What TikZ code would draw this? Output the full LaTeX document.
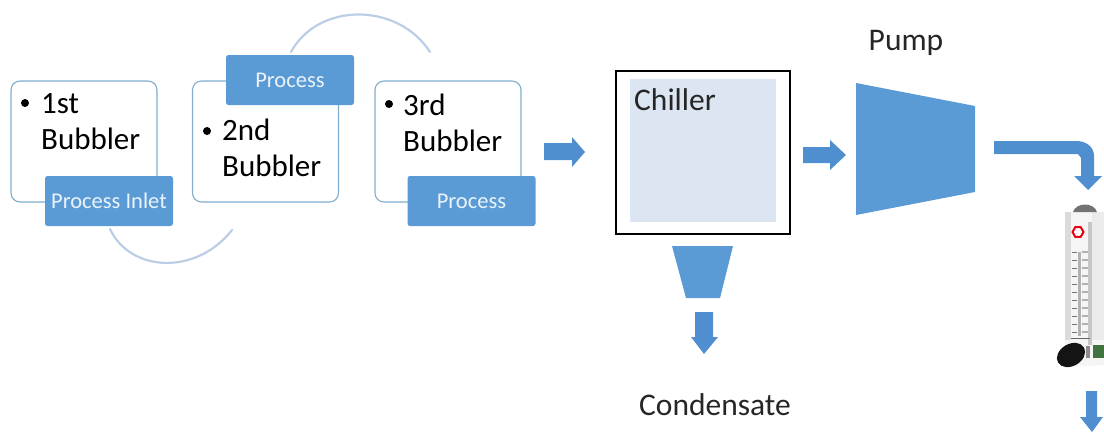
\documentclass[tikz,border=0pt]{standalone}
\usepackage{fontspec}
\setmainfont{Carlito}
\usetikzlibrary{calc,shapes.geometric}
\definecolor{bluefill}{HTML}{5B9BD5}
\definecolor{arrowblue}{HTML}{4F8FD0}
\definecolor{cardedge}{HTML}{7FAFCF}
\definecolor{arcblue}{HTML}{BCCDE6}
\definecolor{chillfill}{HTML}{DCE6F2}
\tikzset{
  x=1pt,y=-1pt,
  card/.style={draw=cardedge,line width=1.1pt,rounded corners=9pt,fill=white,minimum width=146pt,minimum height=121pt,inner sep=0pt},
  tag/.style={fill=bluefill,rounded corners=2.5pt,minimum width=128pt,minimum height=50pt,inner sep=0pt,text=white!88!bluefill,font=\fontsize{22.5}{24}\selectfont},
  cardtext/.style={font=\fontsize{31}{36}\selectfont,text=black,align=left,anchor=north west,inner sep=0pt},
  bullet/.style={circle,fill=black,minimum size=8pt,inner sep=0pt},
  label/.style={font=\fontsize{31.5}{34}\selectfont,text=black!85,inner sep=0pt},
  arcline/.style={draw=arcblue,line width=2.2pt,line cap=round},
  blockarrow/.style={fill=arrowblue},
}
\begin{document}
\begin{tikzpicture}
\useasboundingbox (0,0) rectangle (1104,432);
% arcs
\coordinate (a1s) at (110,229);
\coordinate (a1e) at (232,230);
\coordinate (a2s) at (291,52);
\coordinate (a2e) at (430,52);
\draw[arcline] (a1s) .. controls (130,272) and (196,276) .. (a1e);
\draw[arcline] (a2s) .. controls (318,2) and (398,2) .. (a2e);
% cards
\node[card] (c1) at (84,141.5) {};
\node[card] (c2) at (265.5,141.5) {};
\node[card] (c3) at (448,141.5) {};
\node[tag] (t1) at (109,201) {Process Inlet};
\node[tag] (t2) at (290,80) {Process};
\node[tag] (t3) at (471.5,201) {Process};
\node[bullet] (b1) at (25,103) {};
\node[bullet] (b2) at (207,131) {};
\node[bullet] (b3) at (389,104) {};
\node[cardtext] (x1) at (41,93) {1st\\Bubbler};
\node[cardtext] (x2) at (222,119) {2nd\\Bubbler};
\node[cardtext] (x3) at (403,94) {3rd\\Bubbler};
% arrow to chiller
\fill[blockarrow] (544,143) -- (572,143) -- (572,137) -- (585,152) -- (572,167) -- (572,160) -- (544,160) -- cycle;
% chiller
\draw[black,line width=1.5pt] (616,71) rectangle (790,234);
\node[fill=chillfill,minimum width=146pt,minimum height=143pt,inner sep=0pt] (chill) at (703,150.5) {};
\node[label,anchor=west] (chillt) at (634,100) {Chiller};
% arrow to pump
\fill[blockarrow] (803,147) -- (830,147) -- (830,140) -- (846,155) -- (830,170) -- (830,163) -- (803,163) -- cycle;
% pump
\fill[bluefill] (856,83) -- (975,106) -- (975,192) -- (856,215) -- cycle;
\node[label] (pump) at (906,43) {Pump};
% condensate funnel and arrow
\fill[bluefill] (672,246) -- (733,246) -- (720,298) -- (686,298) -- cycle;
\fill[blockarrow] (695,312) -- (713,312) -- (713,337) -- (718,337) -- (704,354) -- (691,337) -- (695,337) -- cycle;
\node[label] (cond) at (715,405) {Condensate};
% bent arrow
\fill[blockarrow] (994,141) -- (1078,141) .. controls (1088,142) and (1094,148) .. (1094,156) -- (1094,176) -- (1102,176) -- (1088,190) -- (1074,176) -- (1081,176) -- (1081,158) -- (1078,154) -- (994,154) -- cycle;
% flowmeter
\fill[black!4] (1065,212) -- (1104,212) -- (1104,365) -- (1065,367) -- cycle;
\fill[black!14] (1065,212) rectangle (1071,340);
\fill[black!22] (1088,222) rectangle (1092,345);
\fill[black!8] (1092,212) rectangle (1104,340);
\fill[black!55] (1073,212) .. controls (1076,202) and (1094,202) .. (1097,212) -- cycle;
\foreach \yy in {252,260,...,332}{
  \draw[black!55,line width=1pt] (1072,\yy) -- (1077,\yy);
  \draw[black!30,line width=1.5pt] (1082,\yy) -- (1088,\yy);
}
\draw[black!30,line width=3pt] (1079,252) -- (1079,336);
\draw[black!60,line width=1pt] (1071,338) -- (1090,338);
\fill[black!45] (1086,346) rectangle (1090,358);
\fill[black!60!green!50!gray] (1093,345) rectangle (1104,358);
\node[regular polygon,regular polygon sides=6,draw=red!70!purple,fill=white,line width=2pt,minimum size=11pt,inner sep=0pt] (knobred) at (1078,232) {};
\fill[black!92,rotate around={30:(1071,355)}] (1071,355) ellipse [x radius=15pt,y radius=11pt];
% bottom arrow
\fill[blockarrow] (1086,391) -- (1097,391) -- (1097,417) -- (1103,417) -- (1092,432) -- (1080,417) -- (1086,417) -- cycle;
\end{tikzpicture}
\end{document}
